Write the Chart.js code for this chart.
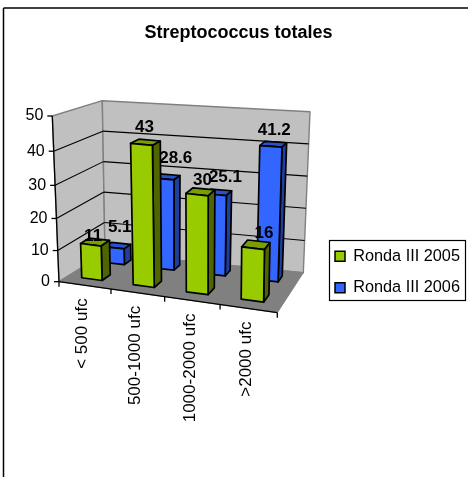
<!DOCTYPE html>
<html>
<head>
<meta charset="utf-8">
<style>html,body{margin:0;padding:0;background:#fff}canvas{display:block}</style>
<script src="https://cdn.jsdelivr.net/npm/chart.js@4"></script>
</head>
<body>
<canvas id="c" width="468" height="477"></canvas>
<script>
const categories = ['< 500 ufc', '500-1000 ufc', '1000-2000 ufc', '>2000 ufc'];
const ronda2005 = [11, 43, 30, 16];
const ronda2006 = [5.1, 28.6, 25.1, 41.2];
const seriesNames = ['Ronda III 2005', 'Ronda III 2006'];
const yTicks = [0, 10, 20, 30, 40, 50];

// Oblique view of the plot box
const FLB=[59,281.7],FLT=[52.3,116],FRB=[277.3,312.7],FRT=[280,137.7];
const BLB=[105,253],BLT=[102.3,100.7],BRB=[303.3,272.7],BRT=[310,111.7];
const DEPTH=[[0.2,0.39],[0.72,0.87]];
const SHADES=[{front:'#99CC00',side:'#4F6600',top:'#7A9E00'},{front:'#3366FF',side:'#1F3F9E',top:'#2752CC'}];
const NUDGE=[[[-2,-6],[-1,-15],[2,-11],[8,-11]],[[2,-18],[9,-18],[7,-15],[1,-14]]];
const BAR_SHIFT=-0.008;

const mix=(a,b,t)=>[a[0]+(b[0]-a[0])*t,a[1]+(b[1]-a[1])*t];
const warp=(t,r)=>t/(t+(1-t)*r);
function P(u,s,w){
  const tu=warp(u,1.066), ts=warp(s,1.08+(1-1.08)*w);
  const front=mix(mix(FLB,FRB,tu),mix(FLT,FRT,tu),ts);
  const back=mix(mix(BLB,BRB,tu),mix(BLT,BRT,tu),ts);
  return mix(front,back,w);
}
function poly(ctx,pts,fill,stroke,lw){
  ctx.beginPath();
  pts.forEach((p,i)=>i?ctx.lineTo(p[0],p[1]):ctx.moveTo(p[0],p[1]));
  ctx.closePath();
  if(fill){ctx.fillStyle=fill;ctx.fill();}
  if(stroke){ctx.strokeStyle=stroke;ctx.lineWidth=lw;ctx.lineJoin='round';ctx.stroke();}
}
function line(ctx,a,b,color,lw){
  ctx.beginPath();ctx.moveTo(a[0],a[1]);ctx.lineTo(b[0],b[1]);
  ctx.strokeStyle=color;ctx.lineWidth=lw;ctx.stroke();
}
const norm=(chart,el)=>{
  const a=chart.chartArea;
  return {
    u0:(el.x-el.width/2-a.left)/(a.right-a.left)+BAR_SHIFT,
    u1:(el.x+el.width/2-a.left)/(a.right-a.left)+BAR_SHIFT,
    s:(a.bottom-el.y)/(a.bottom-a.top),
    b:(a.bottom-el.base)/(a.bottom-a.top)
  };
};

const view3d={
  id:'view3d',
  afterLayout(chart){
    const t=chart.titleBlock;
    t.top=33.5-t.height/2;t.bottom=t.top+t.height;t.left=4;t.right=473;
    const l=chart.legend,h=l.height;
    l.left=320;l.right=468;l.width=148;l.top=272-h/2;l.bottom=272+h/2;
    l.adjustHitBoxes();
  },
  beforeDraw(chart){
    const x=chart.scales.x,y=chart.scales.y,a=chart.chartArea;
    x.getLabelItems(a).forEach((it,i)=>{
      const p=P((i+0.5)/categories.length,0,0);
      it.textOffset=0;
      it.options.textBaseline='middle';
      it.options.translation=[p[0]-2,p[1]+13];
    });
    y.getLabelItems(a).forEach((it,i)=>{
      const s=(a.bottom-y.getPixelForTick(i))/(a.bottom-a.top);
      const p=P(0,s,0);
      it.options.translation=[p[0]-9,p[1]];
    });
    const c=chart.ctx;
    c.save();
    line(c,[3.5,8],[468,8],'#000',1.5);
    line(c,[3.5,8],[3.5,477],'#000',1.5);
    c.restore();
  },
  beforeDatasetsDraw(chart){
    const c=chart.ctx,y=chart.scales.y,a=chart.chartArea;
    c.save();
    poly(c,[FLB,FLT,BLT,BLB],'#C0C0C0','#808080',1.4);
    poly(c,[BLB,BLT,BRT,BRB],'#C0C0C0','#808080',1.4);
    poly(c,[FLB,FRB,BRB,BLB],'#808080','#808080',1);
    y.ticks.forEach((t,i)=>{
      if(t.value===0||t.value===50)return;
      const s=(a.bottom-y.getPixelForTick(i))/(a.bottom-a.top);
      line(c,P(0,s,0),P(0,s,1),'#000',1.1);
      line(c,P(0,s,1),P(1,s,1),'#000',1.1);
    });
    c.restore();
  },
  beforeDatasetDraw(chart,args){
    const c=chart.ctx,d=DEPTH[args.index],sh=SHADES[args.index];
    c.save();
    args.meta.data.forEach(el=>{
      const n=norm(chart,el);
      const f0=P(n.u0,n.b,d[0]),f1=P(n.u1,n.b,d[0]),f2=P(n.u1,n.s,d[0]),f3=P(n.u0,n.s,d[0]);
      const k1=P(n.u1,n.b,d[1]),k2=P(n.u1,n.s,d[1]),k3=P(n.u0,n.s,d[1]);
      poly(c,[f3,f2,k2,k3],sh.top,'#000',1.7);
      poly(c,[f1,k1,k2,f2],sh.side,'#000',1.7);
      poly(c,[f0,f1,f2,f3],sh.front,'#000',1.7);
    });
    c.restore();
    return false;
  },
  afterDatasetsDraw(chart){
    const c=chart.ctx,y=chart.scales.y,a=chart.chartArea;
    c.save();
    line(c,P(0,0,0),P(0,1,0),'#000',1.3);
    line(c,P(0,0,0),P(1,0,0),'#000',1.3);
    y.ticks.forEach((t,i)=>{
      const s=(a.bottom-y.getPixelForTick(i))/(a.bottom-a.top);
      const p=P(0,s,0);
      line(c,[p[0]-5,p[1]],p,'#000',1.3);
    });
    for(let i=0;i<=categories.length;i++){
      const p=P(i/categories.length,0,0);
      line(c,p,[p[0],p[1]+5],'#000',1.3);
    }
    // value labels
    c.font='bold 17px "Liberation Sans", Arial, sans-serif';
    c.fillStyle='#000';c.textAlign='center';c.textBaseline='middle';
    chart.data.datasets.forEach((ds,di)=>{
      const d=DEPTH[di],meta=chart.getDatasetMeta(di);
      meta.data.forEach((el,i)=>{
        const n=norm(chart,el);
        const p=P((n.u0+n.u1)/2,n.s,(d[0]+d[1])/2);
        c.fillText(String(ds.data[i]),p[0]+NUDGE[di][i][0],p[1]+NUDGE[di][i][1]);
      });
    });
    // legend frame
    c.strokeStyle='#000';c.lineWidth=1.2;c.strokeRect(329.5,240.5,136,60);
    c.restore();
  }
};

new Chart(document.getElementById('c'),{
  type:'bar',
  plugins:[view3d],
  data:{
    labels:categories,
    datasets:[
      {label:seriesNames[0],data:ronda2005,backgroundColor:'#99CC00',borderColor:'#000',borderWidth:1.5},
      {label:seriesNames[1],data:ronda2006,backgroundColor:'#3366FF',borderColor:'#000',borderWidth:1.5}
    ]
  },
  options:{
    responsive:false,animation:false,
    barPercentage:0.4,categoryPercentage:1,
    layout:{padding:{top:95,right:75,left:0,bottom:0}},
    font:{family:'"Liberation Sans", Arial, sans-serif'},
    scales:{
      x:{stacked:true,grid:{display:false},border:{display:false},
        afterFit(s){s.height=196;},
        ticks:{autoSkip:false,minRotation:90,maxRotation:90,color:'#000',font:{size:17,family:'"Liberation Sans", Arial, sans-serif'}}},
      y:{min:0,max:50,grid:{display:false},border:{display:false},
        afterFit(s){s.width=59;},
        afterBuildTicks(s){s.ticks=yTicks.map(v=>({value:v}));},
        ticks:{color:'#000',font:{size:16,family:'"Liberation Sans", Arial, sans-serif'}}}
    },
    plugins:{
      tooltip:{enabled:false},
      title:{display:true,text:'Streptococcus totales',color:'#000',padding:0,
        font:{size:18,weight:'bold',family:'"Liberation Sans", Arial, sans-serif'}},
      legend:{display:true,position:'right',
        labels:{boxWidth:10,boxHeight:10,padding:15,color:'#000',
          font:{size:16.3,family:'"Liberation Sans", Arial, sans-serif'}}}
    }
  }
});
</script>
</body>
</html>
